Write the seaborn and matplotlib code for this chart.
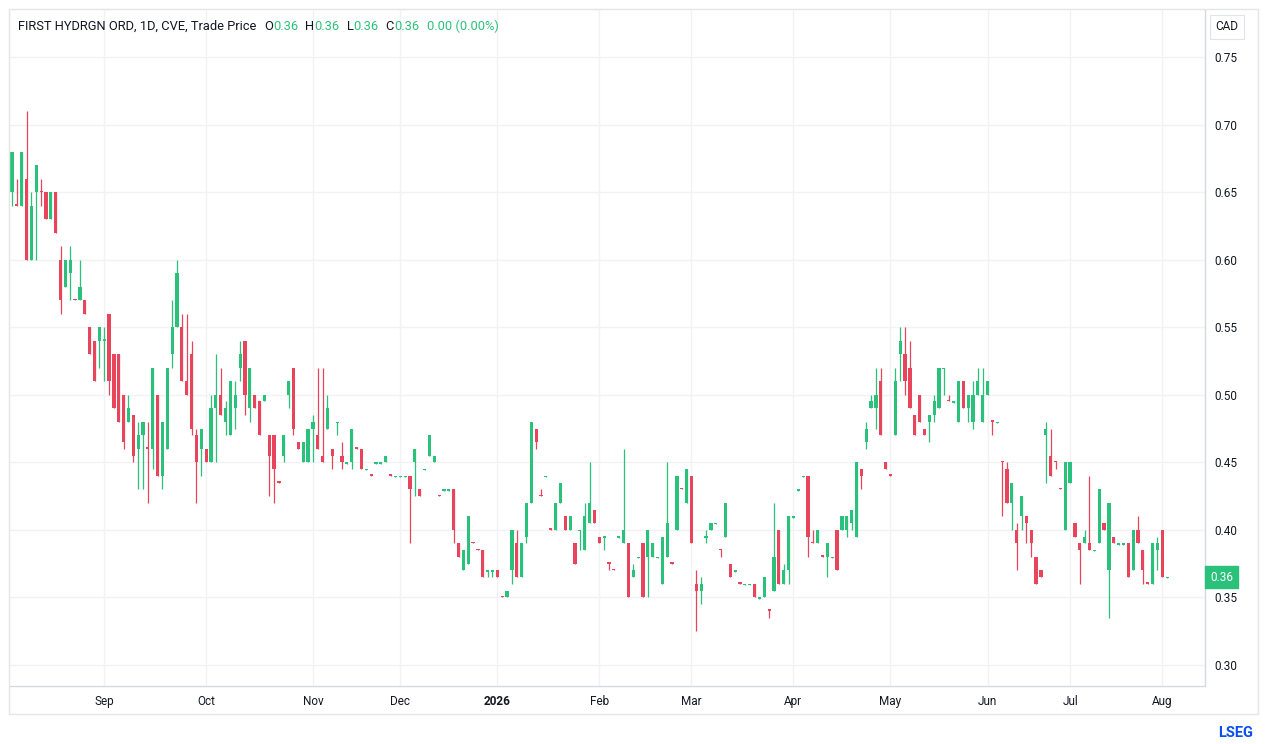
import numpy as np
import pandas as pd
import matplotlib
matplotlib.use("Agg")
import matplotlib.pyplot as plt
import seaborn as sns
from matplotlib.patches import Rectangle

# ---------------- data ----------------
opens = [
    0.65, 0.641, 0.64, 0.66, 0.60, 0.65, 0.651, 0.65, 0.63, 0.65,
    0.60, 0.58, 0.59, 0.571, 0.57, 0.57, 0.55, 0.54, 0.54, 0.54,
    0.56, 0.53, 0.53, 0.50, 0.48, 0.485, 0.46, 0.47, 0.461, 0.46,
    0.50, 0.44, 0.46, 0.53, 0.55, 0.55, 0.51, 0.53, 0.47, 0.46,
    0.46, 0.45, 0.49, 0.50, 0.48, 0.47, 0.49, 0.52, 0.54, 0.49,
    0.50, 0.495, 0.495, 0.47, 0.47, 0.436, 0.455, 0.50, 0.52, 0.465,
    0.45, 0.45, 0.475, 0.47, 0.455, 0.475, 0.46, 0.479, 0.455, 0.449,
    0.45, 0.461, 0.46, 0.444, 0.441, 0.449, 0.449, 0.45, 0.441, 0.439,
    0.439, 0.439, 0.44, 0.45, 0.43, 0.444, 0.455, 0.45, 0.426, 0.429,
    0.429, 0.43, 0.39, 0.37, 0.375, 0.391, 0.386, 0.385, 0.369, 0.369,
    0.37, 0.351, 0.35, 0.37, 0.39, 0.365, 0.395, 0.42, 0.475, 0.426,
    0.439, 0.401, 0.40, 0.42, 0.41, 0.40, 0.39, 0.399, 0.385, 0.405,
    0.415, 0.395, 0.394, 0.376, 0.371, 0.394, 0.39, 0.39, 0.365, 0.379,
    0.39, 0.38, 0.38, 0.379, 0.36, 0.38, 0.376, 0.40, 0.431, 0.42,
    0.44, 0.36, 0.355, 0.394, 0.40, 0.404, 0.386, 0.395, 0.375, 0.369,
    0.361, 0.359, 0.359, 0.36, 0.349, 0.35, 0.341, 0.355, 0.40, 0.36,
    0.37, 0.409, 0.429, 0.439, 0.44, 0.391, 0.39, 0.381, 0.38, 0.379,
    0.40, 0.40, 0.40, 0.405, 0.395, 0.445, 0.465, 0.49, 0.49, 0.51,
    0.45, 0.441, 0.47, 0.53, 0.53, 0.52, 0.485, 0.50, 0.475, 0.48,
    0.485, 0.49, 0.519, 0.496, 0.494, 0.48, 0.51, 0.49, 0.48, 0.50,
    0.48, 0.50, 0.481, 0.479, 0.451, 0.445, 0.42, 0.40, 0.41, 0.41,
    0.40, 0.38, 0.37, 0.47, 0.455, 0.451, 0.431, 0.40, 0.435, 0.405,
    0.39, 0.39, 0.39, 0.384, 0.39, 0.405, 0.37, 0.395, 0.389, 0.389,
    0.39, 0.37, 0.40, 0.385, 0.361, 0.36, 0.385, 0.40, 0.364,
]
highs = [
    0.68, 0.66, 0.68, 0.71, 0.65, 0.67, 0.66, 0.65, 0.65, 0.65,
    0.61, 0.60, 0.61, 0.571, 0.60, 0.57, 0.55, 0.54, 0.55, 0.55,
    0.56, 0.53, 0.53, 0.50, 0.50, 0.485, 0.48, 0.48, 0.48, 0.52,
    0.50, 0.48, 0.52, 0.57, 0.60, 0.56, 0.56, 0.54, 0.475, 0.475,
    0.46, 0.50, 0.53, 0.52, 0.495, 0.51, 0.51, 0.54, 0.54, 0.52,
    0.50, 0.495, 0.50, 0.47, 0.47, 0.436, 0.47, 0.51, 0.52, 0.465,
    0.465, 0.475, 0.485, 0.52, 0.52, 0.50, 0.46, 0.48, 0.465, 0.45,
    0.475, 0.461, 0.46, 0.445, 0.441, 0.45, 0.45, 0.455, 0.441, 0.44,
    0.44, 0.44, 0.44, 0.46, 0.43, 0.445, 0.47, 0.455, 0.426, 0.43,
    0.43, 0.43, 0.39, 0.385, 0.41, 0.391, 0.386, 0.385, 0.37, 0.37,
    0.37, 0.351, 0.355, 0.40, 0.40, 0.39, 0.42, 0.48, 0.475, 0.43,
    0.44, 0.401, 0.42, 0.435, 0.41, 0.41, 0.39, 0.40, 0.42, 0.45,
    0.415, 0.395, 0.395, 0.376, 0.371, 0.395, 0.46, 0.39, 0.375, 0.38,
    0.39, 0.40, 0.39, 0.38, 0.395, 0.45, 0.376, 0.44, 0.431, 0.445,
    0.44, 0.37, 0.365, 0.40, 0.405, 0.405, 0.386, 0.42, 0.375, 0.37,
    0.361, 0.36, 0.36, 0.36, 0.35, 0.365, 0.341, 0.42, 0.40, 0.375,
    0.41, 0.41, 0.43, 0.44, 0.44, 0.40, 0.40, 0.381, 0.39, 0.38,
    0.40, 0.41, 0.41, 0.415, 0.45, 0.445, 0.48, 0.50, 0.52, 0.52,
    0.45, 0.441, 0.52, 0.55, 0.55, 0.54, 0.485, 0.50, 0.475, 0.485,
    0.50, 0.52, 0.52, 0.50, 0.495, 0.51, 0.51, 0.50, 0.51, 0.52,
    0.52, 0.51, 0.481, 0.48, 0.451, 0.45, 0.435, 0.405, 0.425, 0.41,
    0.40, 0.38, 0.37, 0.48, 0.475, 0.451, 0.431, 0.45, 0.45, 0.405,
    0.39, 0.40, 0.44, 0.385, 0.43, 0.405, 0.42, 0.395, 0.39, 0.39,
    0.39, 0.40, 0.41, 0.385, 0.361, 0.39, 0.395, 0.40, 0.365,
]
lows = [
    0.64, 0.64, 0.64, 0.60, 0.60, 0.60, 0.64, 0.63, 0.63, 0.62,
    0.56, 0.58, 0.57, 0.57, 0.57, 0.56, 0.53, 0.51, 0.52, 0.51,
    0.50, 0.49, 0.48, 0.46, 0.48, 0.45, 0.43, 0.43, 0.42, 0.445,
    0.44, 0.43, 0.46, 0.52, 0.55, 0.51, 0.50, 0.47, 0.42, 0.44,
    0.45, 0.45, 0.45, 0.485, 0.47, 0.47, 0.475, 0.51, 0.485, 0.48,
    0.49, 0.47, 0.495, 0.425, 0.42, 0.435, 0.45, 0.49, 0.47, 0.46,
    0.45, 0.45, 0.45, 0.46, 0.45, 0.475, 0.445, 0.47, 0.445, 0.449,
    0.445, 0.46, 0.445, 0.444, 0.44, 0.449, 0.449, 0.45, 0.44, 0.439,
    0.439, 0.439, 0.39, 0.425, 0.425, 0.444, 0.455, 0.45, 0.425, 0.429,
    0.429, 0.39, 0.38, 0.37, 0.375, 0.39, 0.385, 0.365, 0.365, 0.365,
    0.365, 0.35, 0.35, 0.36, 0.365, 0.365, 0.39, 0.42, 0.46, 0.425,
    0.439, 0.40, 0.40, 0.42, 0.40, 0.40, 0.375, 0.385, 0.385, 0.405,
    0.405, 0.39, 0.385, 0.37, 0.37, 0.394, 0.39, 0.35, 0.365, 0.379,
    0.35, 0.35, 0.38, 0.379, 0.36, 0.38, 0.375, 0.40, 0.43, 0.42,
    0.39, 0.325, 0.345, 0.39, 0.40, 0.404, 0.38, 0.395, 0.365, 0.369,
    0.36, 0.359, 0.359, 0.35, 0.349, 0.35, 0.335, 0.355, 0.36, 0.36,
    0.36, 0.409, 0.429, 0.439, 0.38, 0.39, 0.39, 0.38, 0.365, 0.379,
    0.37, 0.40, 0.395, 0.40, 0.395, 0.43, 0.46, 0.49, 0.475, 0.47,
    0.445, 0.44, 0.47, 0.51, 0.50, 0.49, 0.47, 0.48, 0.47, 0.465,
    0.48, 0.49, 0.50, 0.495, 0.494, 0.48, 0.49, 0.48, 0.475, 0.50,
    0.48, 0.50, 0.47, 0.479, 0.41, 0.42, 0.40, 0.37, 0.40, 0.39,
    0.38, 0.36, 0.365, 0.435, 0.44, 0.445, 0.43, 0.40, 0.435, 0.395,
    0.36, 0.39, 0.385, 0.384, 0.39, 0.40, 0.335, 0.39, 0.389, 0.389,
    0.365, 0.37, 0.39, 0.36, 0.36, 0.36, 0.37, 0.365, 0.364,
]
closes = [
    0.68, 0.64, 0.68, 0.60, 0.64, 0.67, 0.65, 0.63, 0.65, 0.62,
    0.57, 0.60, 0.60, 0.57, 0.58, 0.56, 0.53, 0.51, 0.55, 0.541,
    0.51, 0.49, 0.48, 0.465, 0.49, 0.455, 0.47, 0.48, 0.46, 0.52,
    0.44, 0.48, 0.52, 0.55, 0.59, 0.51, 0.50, 0.475, 0.45, 0.475,
    0.45, 0.49, 0.50, 0.485, 0.49, 0.51, 0.50, 0.53, 0.50, 0.52,
    0.49, 0.47, 0.50, 0.455, 0.445, 0.435, 0.47, 0.51, 0.475, 0.46,
    0.465, 0.475, 0.48, 0.46, 0.45, 0.49, 0.455, 0.48, 0.45, 0.45,
    0.475, 0.46, 0.445, 0.445, 0.44, 0.45, 0.45, 0.455, 0.44, 0.44,
    0.44, 0.44, 0.43, 0.46, 0.425, 0.445, 0.47, 0.455, 0.425, 0.43,
    0.43, 0.40, 0.38, 0.385, 0.41, 0.39, 0.385, 0.365, 0.37, 0.37,
    0.365, 0.35, 0.355, 0.40, 0.365, 0.39, 0.42, 0.48, 0.465, 0.425,
    0.44, 0.40, 0.42, 0.435, 0.40, 0.41, 0.375, 0.40, 0.41, 0.42,
    0.405, 0.39, 0.395, 0.375, 0.37, 0.395, 0.40, 0.35, 0.37, 0.38,
    0.35, 0.40, 0.39, 0.38, 0.395, 0.405, 0.375, 0.44, 0.43, 0.445,
    0.39, 0.355, 0.36, 0.395, 0.405, 0.405, 0.385, 0.42, 0.365, 0.37,
    0.36, 0.36, 0.36, 0.35, 0.35, 0.365, 0.34, 0.38, 0.36, 0.37,
    0.41, 0.41, 0.43, 0.44, 0.395, 0.39, 0.40, 0.38, 0.39, 0.38,
    0.37, 0.41, 0.41, 0.415, 0.45, 0.44, 0.475, 0.495, 0.50, 0.47,
    0.445, 0.44, 0.51, 0.54, 0.51, 0.49, 0.47, 0.48, 0.47, 0.485,
    0.495, 0.52, 0.52, 0.495, 0.495, 0.51, 0.49, 0.50, 0.50, 0.51,
    0.50, 0.51, 0.48, 0.48, 0.45, 0.42, 0.435, 0.39, 0.425, 0.405,
    0.39, 0.36, 0.365, 0.475, 0.44, 0.45, 0.43, 0.45, 0.45, 0.395,
    0.385, 0.395, 0.385, 0.385, 0.43, 0.40, 0.42, 0.39, 0.39, 0.39,
    0.365, 0.40, 0.39, 0.37, 0.36, 0.39, 0.39, 0.365, 0.365,
]

month_labels = ["Sep", "Oct", "Nov", "Dec", "2026", "Feb", "Mar", "Apr",
                "May", "Jun", "Jul", "Aug"]
month_bar_index = [19, 40, 62, 80, 100, 121, 140, 161, 181, 201, 218, 237]
price_ticks = [0.30, 0.35, 0.40, 0.45, 0.50, 0.55, 0.60, 0.65, 0.70, 0.75]
title_text = "FIRST HYDRGN ORD, 1D, CVE, Trade Price"
ohlc_text = [("O", "0.36"), ("H", "0.36"), ("L", "0.36"), ("C", "0.36")]
change_text = "0.00 (0.00%)"
last_label = "0.36"
currency = "CAD"

# ---------------- styling ----------------
W, H = 1266, 744
GREEN = "#2ac27a"
RED = "#e8455d"
DARK = "#131722"
GRID = "#f0f2f5"
EDGE = "#d6d9de"

sns.set_theme(style="white")
plt.rcParams["font.family"] = ["Roboto", "DejaVu Sans"]

df = pd.DataFrame({"open": opens, "high": highs, "low": lows, "close": closes})
df["bar"] = np.arange(len(df))
df["up"] = df["close"] > df["open"]
df["color"] = np.where(df["up"], GREEN, RED)
df["body_lo"] = df[["open", "close"]].min(axis=1)
df["body_h"] = np.maximum((df["close"] - df["open"]).abs(), 0.0011)

fig = plt.figure(figsize=(W / 100, H / 100), dpi=100)
fig.patch.set_facecolor("white")
ax = fig.add_axes([10 / W, (H - 686) / H, (1205 - 10) / W, (686 - 10) / H])
ax.set_facecolor("white")

# wicks
ax.vlines(df["bar"], df["low"], df["high"], colors=df["color"], linewidth=0.9,
          zorder=3)
# bodies
ax.bar(df["bar"], df["body_h"], bottom=df["body_lo"], width=0.66,
       color=df["color"], linewidth=0, zorder=4)

# axes ranges
ax.set_xlim(-0.41, 245.8)
ax.set_ylim(0.2844, 0.7848)

ax.set_xticks(month_bar_index)
ax.set_xticklabels(month_labels)
for lbl in ax.get_xticklabels():
    lbl.set_fontsize(8.5)
    lbl.set_color(DARK)
    if lbl.get_text() == "2026":
        lbl.set_fontweight("bold")

ax.yaxis.tick_right()
ax.set_yticks(price_ticks)
ax.set_yticklabels([f"{v:.2f}" for v in price_ticks])
ax.tick_params(axis="y", length=0, pad=7, labelsize=8.5, labelcolor=DARK)
ax.tick_params(axis="x", length=0, pad=6.6, labelsize=8.5, labelcolor=DARK)

ax.grid(True, color=GRID, linewidth=1.0, zorder=0)
ax.set_axisbelow(True)
for side in ["top", "left"]:
    ax.spines[side].set_visible(False)
for side in ["bottom", "right"]:
    ax.spines[side].set_color(EDGE)
    ax.spines[side].set_linewidth(1.0)

# outer frame
fig.add_artist(Rectangle((9 / W, (H - 714) / H), (1258 - 9) / W, (714 - 9) / H,
                         transform=fig.transFigure, fill=False,
                         edgecolor="#e3e5e8", linewidth=1.0))

# last price tag
ax.annotate(last_label, xy=(1.0, closes[-1]), xycoords=("axes fraction", "data"),
            xytext=(5, 0), textcoords="offset pixels", ha="left", va="center",
            fontsize=8.5, color="white", zorder=10, annotation_clip=False,
            bbox=dict(boxstyle="square,pad=0.4", facecolor=GREEN,
                      edgecolor=GREEN))

# currency box
fig.text(1227 / W, 1 - 27 / H, currency, ha="center", va="center",
         fontsize=8.5, color=DARK,
         bbox=dict(boxstyle="square,pad=0.45", facecolor="white",
                   edgecolor="#e0e3e8", linewidth=0.8))

# header
renderer = fig.canvas.get_renderer()
x_px = 18
y_hdr = 1 - 26 / H
pieces = [(title_text, DARK, 0)]
for i, (k, v) in enumerate(ohlc_text):
    pieces.append((k, DARK, 8 if i == 0 else 7))
    pieces.append((v, GREEN, 0))
pieces.append((change_text, GREEN, 8))
for txt, col, gap in pieces:
    x_px += gap
    t = fig.text(x_px / W, y_hdr, txt, color=col, fontsize=9.3,
                 ha="left", va="center")
    bb = t.get_window_extent(renderer)
    x_px = bb.x1

# logo
fig.text(1236 / W, 1 - 733 / H, "LSEG", ha="center", va="center",
         fontsize=10.5, fontweight="bold", color="#0a4ff0")

fig.savefig("out.png", dpi=100, facecolor="white")
